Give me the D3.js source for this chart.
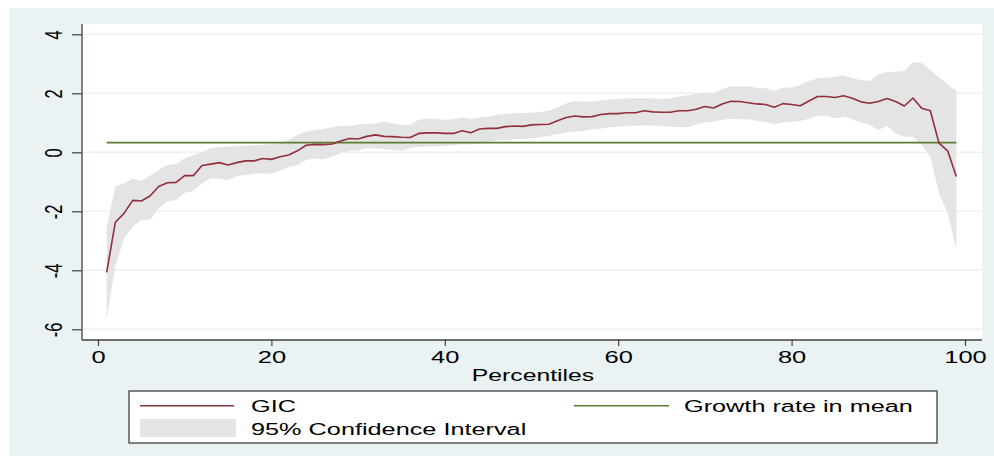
<!DOCTYPE html>
<html>
<head>
<meta charset="utf-8">
<script src="https://cdn.jsdelivr.net/npm/d3@7"></script>
<style>
  html, body { margin: 0; padding: 0; background: #ffffff; }
  svg { display: block; }
  text { font-family: "Liberation Sans", Arial, Helvetica, sans-serif; fill: #000; }
</style>
</head>
<body>
<svg id="chart" width="994" height="456"></svg>
<script>
// ---- Data ----
const percentiles = d3.range(1, 100);
const gic = [
  -4.07, -2.37, -2.07, -1.63, -1.65, -1.48, -1.16, -1.03, -1.02, -0.79,
  -0.79, -0.45, -0.40, -0.35, -0.43, -0.35, -0.29, -0.29, -0.21, -0.24,
  -0.15, -0.09, 0.05, 0.24, 0.27, 0.26, 0.28, 0.38, 0.47, 0.45,
  0.54, 0.59, 0.54, 0.53, 0.51, 0.50, 0.64, 0.66, 0.66, 0.64,
  0.64, 0.73, 0.66, 0.79, 0.81, 0.81, 0.87, 0.89, 0.88, 0.93,
  0.94, 0.95, 1.07, 1.18, 1.23, 1.20, 1.21, 1.28, 1.31, 1.31,
  1.34, 1.34, 1.41, 1.37, 1.36, 1.36, 1.41, 1.41, 1.46, 1.55,
  1.50, 1.64, 1.73, 1.72, 1.68, 1.64, 1.62, 1.53, 1.65, 1.62,
  1.58, 1.74, 1.89, 1.89, 1.86, 1.92, 1.83, 1.71, 1.66, 1.72,
  1.82, 1.72, 1.57, 1.84, 1.49, 1.41, 0.31, 0.05, -0.82
];
const ciUpper = [
  -2.52, -1.16, -1.05, -0.88, -0.97, -0.79, -0.60, -0.43, -0.40, -0.20,
  -0.09, -0.01, 0.14, 0.17, 0.19, 0.21, 0.23, 0.24, 0.26, 0.27,
  0.31, 0.42, 0.59, 0.70, 0.76, 0.79, 0.85, 0.89, 0.90, 0.94,
  0.96, 0.98, 1.04, 0.98, 0.93, 0.93, 1.10, 1.15, 1.13, 1.10,
  1.12, 1.19, 1.13, 1.18, 1.21, 1.27, 1.30, 1.32, 1.33, 1.34,
  1.37, 1.41, 1.53, 1.66, 1.74, 1.72, 1.72, 1.76, 1.79, 1.81,
  1.82, 1.83, 1.83, 1.82, 1.81, 1.82, 1.89, 1.93, 1.98, 2.02,
  2.00, 2.15, 2.23, 2.23, 2.23, 2.19, 2.17, 2.09, 2.19, 2.20,
  2.28, 2.42, 2.51, 2.53, 2.56, 2.61, 2.51, 2.45, 2.42, 2.64,
  2.72, 2.73, 2.76, 3.04, 3.04, 2.79, 2.54, 2.31, 2.08
];
const ciLower = [
  -5.66, -3.85, -2.92, -2.52, -2.29, -2.29, -1.90, -1.67, -1.62, -1.37,
  -1.31, -1.05, -0.88, -0.90, -0.94, -0.80, -0.77, -0.73, -0.71, -0.73,
  -0.62, -0.51, -0.43, -0.26, -0.20, -0.24, -0.15, -0.03, 0.05, 0.06,
  0.14, 0.14, 0.10, 0.08, 0.05, 0.14, 0.19, 0.19, 0.20, 0.21,
  0.24, 0.27, 0.27, 0.31, 0.35, 0.40, 0.42, 0.44, 0.45, 0.47,
  0.51, 0.55, 0.61, 0.67, 0.70, 0.72, 0.78, 0.81, 0.85, 0.87,
  0.89, 0.90, 0.92, 0.90, 0.89, 0.87, 0.86, 0.85, 0.93, 1.01,
  1.04, 1.10, 1.14, 1.12, 1.12, 1.07, 1.03, 0.95, 1.01, 1.03,
  1.06, 1.14, 1.24, 1.24, 1.15, 1.21, 1.12, 1.01, 0.93, 0.76,
  0.89, 0.64, 0.53, 0.53, 0.25, -0.15, -1.39, -2.05, -3.29
];
const growthInMean = 0.33;
const xTicks = [0, 20, 40, 60, 80, 100];
const yTicks = [-6, -4, -2, 0, 2, 4];
const yTickLabels = ["-6", "-4", "-2", "0", "2", "4"];
const xTitle = "Percentiles";
const legendLabels = ["GIC", "Growth rate in mean", "95% Confidence Interval"];

// ---- Layout ----
const SX = 1.5;   // horizontal stretch of the original rendering
const SXL = 1.56; // legend text stretch
const colors = { bg: "#eaf2f3", grid: "#eaf2f3", ci: "#e4e4e4", gic: "#922f3d", growth: "#5b7d33", axis: "#404040" };
const plot = { left: 82, right: 982, top: 24, bottom: 340 };

const svg = d3.select("#chart");
const x = d3.scaleLinear().domain([0, 100]).range([98, 965]);
const y = d3.scaleLinear().domain([-6, 4]).range([329.3, 34.3]);

// backgrounds
svg.append("rect").attr("x", 9).attr("y", 8).attr("width", 985).attr("height", 448).attr("fill", colors.bg);
svg.append("rect").attr("x", plot.left).attr("y", plot.top)
  .attr("width", plot.right - plot.left).attr("height", plot.bottom - plot.top).attr("fill", "#ffffff");

// gridlines
svg.append("g").selectAll("line").data(yTicks).join("line")
  .attr("x1", plot.left + 1).attr("x2", plot.right)
  .attr("y1", d => y(d)).attr("y2", d => y(d))
  .attr("stroke", colors.grid).attr("stroke-width", 1.5);

// confidence interval
const rows = percentiles.map((p, i) => ({ p, g: gic[i], lo: ciLower[i], hi: ciUpper[i] }));
svg.append("path").datum(rows)
  .attr("d", d3.area().x(d => x(d.p)).y0(d => y(d.lo)).y1(d => y(d.hi)))
  .attr("fill", colors.ci);

// growth rate in mean
svg.append("path").datum(rows)
  .attr("d", d3.line().x(d => x(d.p)).y(() => y(growthInMean)))
  .attr("fill", "none").attr("stroke", colors.growth).attr("stroke-width", 1.8);

// GIC
svg.append("path").datum(rows)
  .attr("d", d3.line().x(d => x(d.p)).y(d => y(d.g)))
  .attr("fill", "none").attr("stroke", colors.gic).attr("stroke-width", 1.6)
  .attr("stroke-linejoin", "round");

// y axis
const yAxis = svg.append("g").attr("transform", `translate(${plot.left},0)`)
  .call(d3.axisLeft(y).tickValues(yTicks).tickSize(10).tickFormat((d, i) => yTickLabels[i]));
yAxis.select(".domain").remove();
yAxis.selectAll(".tick line").attr("stroke", colors.axis).attr("stroke-width", 1.2);
yAxis.selectAll(".tick text")
  .attr("x", null).attr("dy", null)
  .attr("text-anchor", "middle")
  .attr("font-size", 16.5)
  .attr("transform", `translate(-20,0) scale(${SX},1) rotate(-90)`);
svg.append("line").attr("x1", plot.left).attr("x2", plot.left)
  .attr("y1", plot.top).attr("y2", plot.bottom)
  .attr("stroke", colors.axis).attr("stroke-width", 1.3);

// x axis
const xAxis = svg.append("g").attr("transform", `translate(0,${plot.bottom})`)
  .call(d3.axisBottom(x).tickValues(xTicks).tickSize(6).tickFormat(d => String(d)));
xAxis.select(".domain").remove();
xAxis.selectAll(".tick line").attr("stroke", colors.axis).attr("stroke-width", 1.2);
xAxis.selectAll(".tick text")
  .attr("y", null).attr("dy", null)
  .attr("text-anchor", "middle")
  .attr("font-size", 17)
  .attr("transform", `translate(0,22.7) scale(${SX},1)`);
svg.append("line").attr("x1", plot.left).attr("x2", plot.right)
  .attr("y1", plot.bottom).attr("y2", plot.bottom)
  .attr("stroke", colors.axis).attr("stroke-width", 1.3);

// x title
svg.append("text").text(xTitle)
  .attr("text-anchor", "middle").attr("font-size", 16.5)
  .attr("transform", `translate(533,381) scale(${SX},1)`);

// legend
const lg = svg.append("g");
lg.append("rect").attr("x", 129).attr("y", 391).attr("width", 808).attr("height", 52)
  .attr("fill", "#ffffff").attr("stroke", "#333").attr("stroke-width", 1.2);
lg.append("line").attr("x1", 140).attr("x2", 234).attr("y1", 405.7).attr("y2", 405.7)
  .attr("stroke", colors.gic).attr("stroke-width", 1.6);
lg.append("line").attr("x1", 574).attr("x2", 669).attr("y1", 405.7).attr("y2", 405.7)
  .attr("stroke", colors.growth).attr("stroke-width", 1.6);
lg.append("rect").attr("x", 140).attr("y", 419).attr("width", 96).attr("height", 18).attr("fill", colors.ci);
const legendPos = [[251, 412], [684, 412], [251, 435]];
legendLabels.forEach((t, i) => {
  lg.append("text").text(t).attr("font-size", 16.2)
    .attr("transform", `translate(${legendPos[i][0]},${legendPos[i][1]}) scale(${SXL},1)`);
});
</script>
</body>
</html>
